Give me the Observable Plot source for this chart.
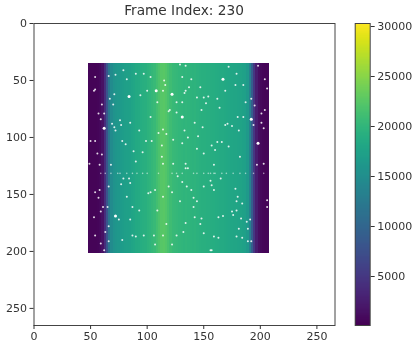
<!DOCTYPE html>
<html><head><meta charset="utf-8">
<script src="https://cdn.jsdelivr.net/npm/d3@7"></script>
<script src="https://cdn.jsdelivr.net/npm/@observablehq/plot@0.6"></script>
<style>
html,body{margin:0;padding:0;background:#fff;overflow:hidden}
#fig{position:relative;width:415px;height:347px}
#fig svg{position:absolute;left:0;top:0;filter:blur(0.55px);background:transparent;font-family:"DejaVu Sans"}
</style></head><body><div id="fig"></div>
<script>
const titleText = "Frame Index: 230";
const axisTicks = [0, 50, 100, 150, 200, 250];
const barTicks = [5000, 10000, 15000, 20000, 25000, 30000];
const colorDomain = [100, 30300];
const imageTop = 35, imageBottom = 201.5, colStart = 48, colWidth = 2;
// intensity per column, left to right
const colValues = [500,450,450,450,500,700,1500,4000,8000,12000,14500,15600,16000,16200,16500,16800,17000,17100,17400,17700,
18000,18300,18500,18800,19000,19200,19500,19800,20100,20500,21100,21800,22300,22500,22100,21500,20900,20500,20300,20200,
20000,19900,19800,19900,19700,19600,19500,19600,19400,19300,19200,19100,19000,19000,18900,18800,18700,18600,18500,18400,
18300,18200,18100,18000,17900,17800,17700,17600,17400,17200,16300,13500,9000,5000,2500,1200,700,500,450,500];
const specks = [
[79,41],[72,45],[66,46],[54,47],[53,59],[54,58],[71,62],[67,66],[94,63],[100,59],[70,71],[60,71],[59,84],[76,85],[85,87],[71,91],[77,89],[54,103],[50,103],[88,112],[60,115],[56,114],[69,88],[72,94],[78,103],[96,113],[93,94],[99,103],[90,44],[82,49],[97,44],[62,79],[81,106],[57,79],
[115,50],[116,54],[114,59],[103,47],[109,69],[134,59],[133,61],[131,47],[122,62],[120,76],[119,77],[131,82],[131,69],[126,69],[144,65],[150,65],[152,70],[148,76],[126,78],[142,87],[149,91],[110,96],[117,97],[123,102],[136,100],[145,99],[113,107],[131,105],[144,110],[157,107],[150,114],[113,117],[139,49],[137,56],[147,56],[154,64],[103,82],[114,93],[129,36],[134,37],[104,103],[133,94],
[172,38],[179,44],[178,54],[185,54],[169,59],[162,66],[164,74],[187,69],[171,88],[169,89],[175,90],[180,82],[201,87],[195,72],[201,79],[204,76],[181,94],[162,104],[160,111],[182,117],[192,66],[172,108],[166,104],[198,37],[204,49],[203,92],[194,89],[185,82],[206,57],
[49,123],[58,124],[90,121],[68,124],[84,136],[85,140],[77,141],[66,143],[58,146],[57,153],[54,148],[82,152],[61,161],[65,161],[85,172],[75,172],[59,165],[93,164],[87,161],[66,178],[63,183],[66,191],[87,186],[90,187],[59,193],[78,190],[62,199],[97,186],[101,149],[79,136],[54,186],[53,170],
[114,123],[123,123],[134,123],[134,127],[136,127],[119,143],[122,148],[107,146],[103,148],[114,152],[141,153],[144,156],[141,161],[129,156],[135,143],[150,143],[157,142],[127,134],[109,164],[148,171],[142,170],[147,176],[134,175],[117,176],[106,186],[126,186],[132,183],[150,184],[114,186],[107,194],[122,194],[157,199],[131,139],[139,146],
[159,124],[197,124],[203,123],[156,138],[165,136],[159,146],[178,145],[180,152],[184,158],[179,156],[175,165],[179,164],[183,171],[191,172],[188,174],[163,170],[167,169],[159,187],[163,188],[179,187],[184,188],[192,191],[189,180],[206,161],[156,199],[176,168],[189,191],[181,180],[206,155]];
const bigSpecks = [[84,64],[62,92],[72,169],[167,49],[192,84],[198,105],[108,59],[122,62],[131,82]];
// the faint row of specks across the frame
const bandRow = 131.5;
const bandX = [59,63,68,74,76,82,87,91,96,100,110,122,126,131,141,144,150,154,156,159,160,166,170,176,182,187,194,203];

const columns = colValues.map((v, i) => ({x1: colStart + i * colWidth, x2: colStart + (i + 1) * colWidth, v}));
const colorScale = {type: "linear", scheme: "viridis", domain: colorDomain};

const main = Plot.plot({
  width: 415, height: 347,
  marginLeft: 33.5, marginRight: 80.5, marginTop: 23, marginBottom: 22,
  style: {background: "transparent", fontFamily: "DejaVu Sans"},
  x: {domain: [0, 266], axis: null},
  y: {domain: [265, 0], axis: null},
  color: colorScale,
  marks: [
    Plot.rect(columns, {x1: "x1", x2: "x2", y1: imageTop, y2: imageBottom, fill: "v", shapeRendering: "crispEdges"}),
    Plot.dot(specks, {x: d => d[0], y: d => d[1], r: 1, fill: "white", fillOpacity: 0.85, stroke: "none"}),
    Plot.dot(bandX, {x: d => d, y: bandRow, r: 0.8, fill: "white", fillOpacity: 0.55, stroke: "none"}),
    Plot.dot(bigSpecks, {x: d => d[0], y: d => d[1], r: 1.5, fill: "white", stroke: "none"}),
    Plot.frame({stroke: "#444", strokeWidth: 1}),
    Plot.axisX({anchor: "bottom", ticks: axisTicks, tickSize: 4, tickPadding: 3, label: null, fontSize: 11, stroke: "#333", fill: "#333"}),
    Plot.axisY({anchor: "left", ticks: axisTicks, tickSize: 4, tickPadding: 3, label: null, fontSize: 11, stroke: "#333", fill: "#333"}),
    Plot.text([titleText], {frameAnchor: "top", dy: -13, dx: -0.5, fontSize: 13.7, fill: "#333", lineAnchor: "middle"})
  ]
});

const ramp = d3.range(colorDomain[0], colorDomain[1], 100).map(v => ({y1: v, y2: v + 100, v}));
const bar = Plot.plot({
  width: 415, height: 347,
  marginLeft: 354.7, marginRight: 45.3, marginTop: 23, marginBottom: 22,
  style: {background: "transparent", fontFamily: "DejaVu Sans"},
  x: {domain: [0, 1], axis: null},
  y: {domain: colorDomain, axis: null},
  color: colorScale,
  marks: [
    Plot.rect(ramp, {x1: 0, x2: 1, y1: "y1", y2: "y2", fill: "v", shapeRendering: "crispEdges"}),
    Plot.frame({stroke: "#444", strokeWidth: 1}),
    Plot.axisY({anchor: "right", ticks: barTicks, tickSize: 4, tickPadding: 3, label: null, tickFormat: d3.format("d"), fontSize: 11, stroke: "#333", fill: "#333"})
  ]
});
document.getElementById("fig").append(main, bar);
</script></body></html>
